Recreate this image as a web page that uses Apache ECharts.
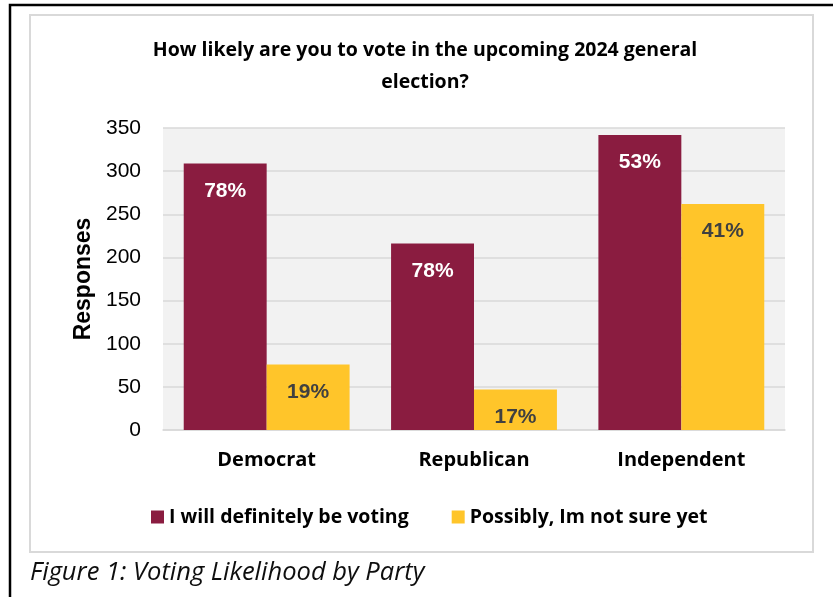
<!DOCTYPE html>
<html>
<head>
<meta charset="utf-8">
<script src="https://cdn.jsdelivr.net/npm/echarts@6/dist/echarts.min.js"></script>
<style>
  html, body { margin: 0; padding: 0; background: #ffffff; }
  #chart { width: 833px; height: 597px; }
</style>
</head>
<body>
<div id="chart"></div>
<script>
// Party categories along the x axis
const parties = ['Democrat', 'Republican', 'Independent'];

// Number of responses per party
const definitelyVoting = [309, 216, 342];
const possiblyVoting = [76, 47, 262];

// Share of each party's respondents, shown on the bars
const definitelyPct = ['78%', '78%', '53%'];
const possiblyPct = ['19%', '17%', '41%'];

const seriesNames = ['I will definitely be voting', 'Possibly, Im not sure yet'];
const yTicks = { min: 0, max: 350, step: 50 };

const titleFont = '"Open Sans", "DejaVu Sans", sans-serif';
const numFont = '"Liberation Sans", Arial, sans-serif';

const chart = echarts.init(document.getElementById('chart'), null, { renderer: 'canvas' });

chart.setOption({
  backgroundColor: '#ffffff',
  animation: false,
  legend: {
    data: seriesNames,
    top: 502,
    left: 146,
    icon: 'rect',
    itemWidth: 13,
    itemHeight: 13,
    itemGap: 43,
    textStyle: {
      fontFamily: titleFont,
      fontWeight: 'bold',
      fontSize: 19.5,
      color: '#000000'
    }
  },
  grid: {
    left: 163,
    right: 48,
    top: 128,
    bottom: 167,
    show: true,
    backgroundColor: '#f2f2f2',
    borderWidth: 0,
    containLabel: false
  },
  xAxis: {
    type: 'category',
    data: parties,
    axisTick: { show: false },
    axisLine: { show: true, lineStyle: { color: '#d9d9d9', width: 1.5 } },
    axisLabel: {
      margin: 20,
      fontFamily: titleFont,
      fontWeight: 'bold',
      fontSize: 20,
      color: '#000000'
    }
  },
  yAxis: {
    type: 'value',
    min: yTicks.min,
    max: yTicks.max,
    interval: yTicks.step,
    name: 'Responses',
    nameLocation: 'middle',
    nameGap: 68,
    nameRotate: 90,
    nameTextStyle: {
      fontFamily: numFont,
      fontWeight: 'bold',
      fontSize: 23,
      color: '#000000'
    },
    axisLine: { show: false },
    axisTick: { show: false },
    splitLine: { lineStyle: { color: '#d9d9d9', width: 1.5 } },
    axisLabel: {
      margin: 22,
      fontFamily: numFont,
      fontSize: 21,
      color: '#000000'
    }
  },
  series: [
    {
      name: seriesNames[0],
      type: 'bar',
      data: definitelyVoting,
      barGap: '0%',
      barCategoryGap: '20%',
      itemStyle: { color: '#8a1c40' },
      label: {
        show: true,
        position: 'insideTop',
        distance: 17,
        formatter: p => definitelyPct[p.dataIndex],
        fontFamily: numFont,
        fontWeight: 'bold',
        fontSize: 21,
        color: '#ffffff'
      }
    },
    {
      name: seriesNames[1],
      type: 'bar',
      data: possiblyVoting,
      barGap: '0%',
      barCategoryGap: '20%',
      itemStyle: { color: '#ffc52a' },
      label: {
        show: true,
        position: 'insideTop',
        distance: 17,
        formatter: p => possiblyPct[p.dataIndex],
        fontFamily: numFont,
        fontWeight: 'bold',
        fontSize: 21,
        color: '#404040'
      }
    }
  ],
  graphic: [
    {
      type: 'rect',
      silent: true,
      z: -10,
      shape: { x: 30, y: 15, width: 783, height: 537 },
      style: { fill: null, stroke: '#d9d9d9', lineWidth: 2 }
    },
    {
      type: 'rect',
      silent: true,
      z: 10,
      shape: { x: 10, y: 5, width: 900, height: 700 },
      style: { fill: null, stroke: '#000000', lineWidth: 2.5 }
    },
    {
      type: 'text',
      silent: true,
      x: 425,
      y: 34,
      style: {
        text: 'How likely are you to vote in the upcoming 2024 general\nelection?',
        align: 'center',
        verticalAlign: 'top',
        fontFamily: titleFont,
        fontWeight: 'bold',
        fontSize: 19.5,
        lineHeight: 32,
        fill: '#000000'
      }
    },
    {
      type: 'text',
      silent: true,
      left: 30,
      top: 560,
      style: {
        text: 'Figure 1: Voting Likelihood by Party',
        fontFamily: titleFont,
        fontStyle: 'italic',
        fontSize: 25.5,
        fill: '#0e0e0e'
      }
    }
  ]
});
</script>
</body>
</html>
